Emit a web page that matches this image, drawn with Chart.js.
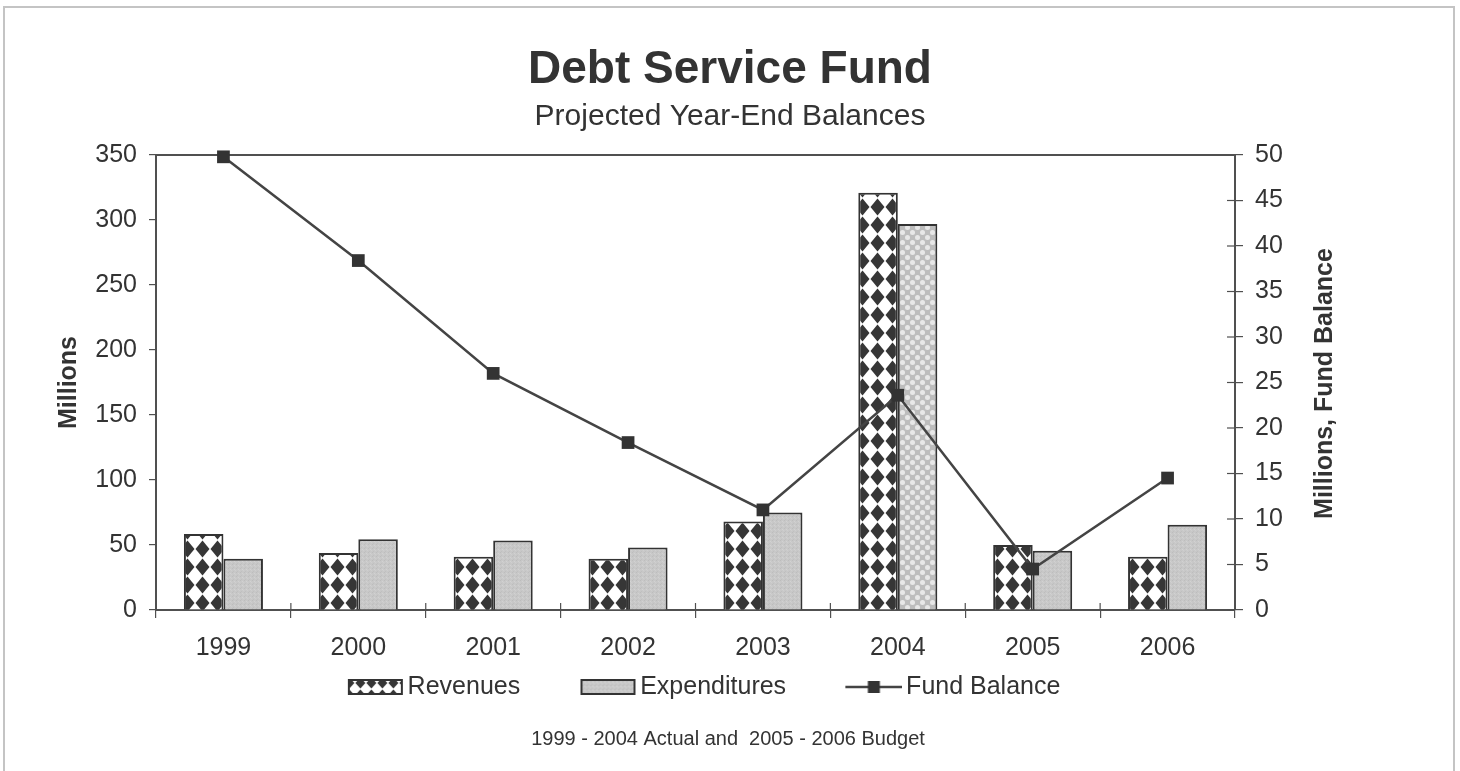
<!DOCTYPE html>
<html>
<head>
<meta charset="utf-8">
<script src="https://cdn.jsdelivr.net/npm/chart.js@4.4.1/dist/chart.umd.min.js"></script>
<style>
  html, body { margin: 0; padding: 0; background: #ffffff; }
  canvas { display: block; }
</style>
</head>
<body>
<canvas id="c" width="1460" height="771"></canvas>
<script>
// ---- data ----
const categories = ['1999', '2000', '2001', '2002', '2003', '2004', '2005', '2006'];
const revenues = [58.5, 43.8, 41, 39.5, 68, 321, 50, 41];
const expenditures = [39.5, 54.5, 53.5, 48, 75, 297, 45.5, 65.5];
const fundBalance = [49.8, 38.4, 26.0, 18.4, 11.0, 23.6, 4.5, 14.5];
const leftTicks = [0, 50, 100, 150, 200, 250, 300, 350];
const rightTicks = [0, 5, 10, 15, 20, 25, 30, 35, 40, 45, 50];
const titleText = 'Debt Service Fund';
const subtitleText = 'Projected Year-End Balances';
const footnoteText = '1999 - 2004 Actual and  2005 - 2006 Budget';
const leftAxisTitle = 'Millions';
const rightAxisTitle = 'Millions, Fund Balance';
const seriesNames = ['Revenues', 'Expenditures', 'Fund Balance'];

const FONT = "'Liberation Sans', Arial, Helvetica, sans-serif";
const TEXT = '#333333';
const AXIS = '#505050';

function makeCanvas(w, h) { const c = document.createElement('canvas'); c.width = w; c.height = h; return c; }

function revTile() {
  const w = 15, h = 18;
  const t = makeCanvas(w, h), g = t.getContext('2d');
  g.fillStyle = '#ffffff'; g.fillRect(0, 0, w, h);
  g.fillStyle = '#363636';
  g.beginPath(); g.moveTo(w / 2, 0.5); g.lineTo(w - 0.5, h / 2); g.lineTo(w / 2, h - 0.5); g.lineTo(0.5, h / 2); g.closePath(); g.fill();
  return t;
}
function expTile() {
  const t = makeCanvas(4, 4), g = t.getContext('2d');
  g.fillStyle = '#c8c8c8'; g.fillRect(0, 0, 4, 4);
  g.fillStyle = '#bdbdbd'; g.fillRect(0, 0, 1, 1);
  g.fillStyle = '#d2d2d2'; g.fillRect(2, 1, 1, 1);
  g.fillStyle = '#c0c0c0'; g.fillRect(1, 3, 1, 1);
  g.fillStyle = '#cfcfcf'; g.fillRect(3, 2, 1, 1);
  return t;
}
function exp2Tile() {
  const t = makeCanvas(10, 10), g = t.getContext('2d');
  g.fillStyle = '#bdbdbd'; g.fillRect(0, 0, 10, 10);
  g.fillStyle = '#e8e8e8';
  g.beginPath(); g.arc(2.5, 2.5, 2.5, 0, Math.PI * 2); g.fill();
  g.beginPath(); g.arc(7.5, 7.5, 2.5, 0, Math.PI * 2); g.fill();
  return t;
}

const mainCtx = document.getElementById('c').getContext('2d');
const revPattern = mainCtx.createPattern(revTile(), 'repeat');
const expPattern = mainCtx.createPattern(expTile(), 'repeat');
const exp2Pattern = mainCtx.createPattern(exp2Tile(), 'repeat');
const expColors = categories.map(c => c === '2004' ? exp2Pattern : expPattern);

function smallRevTile() {
  const w = 11, h = 12;
  const t = makeCanvas(w, h), g = t.getContext('2d');
  g.fillStyle = '#ffffff'; g.fillRect(0, 0, w, h);
  g.fillStyle = '#363636';
  g.beginPath(); g.moveTo(w / 2, 0.5); g.lineTo(w - 0.5, h / 2); g.lineTo(w / 2, h - 0.5); g.lineTo(0.5, h / 2); g.closePath(); g.fill();
  return t;
}
function legendBox(tileFn) {
  const c = makeCanvas(82, 20), g = c.getContext('2d');
  g.fillStyle = g.createPattern(tileFn(), 'repeat');
  g.fillRect(26, 2, 55, 16);
  g.strokeStyle = '#333333'; g.lineWidth = 2;
  g.strokeRect(27, 3, 53, 14);
  return c;
}
function legendLine() {
  const c = makeCanvas(82, 20), g = c.getContext('2d');
  g.strokeStyle = '#444444'; g.lineWidth = 2.5;
  g.beginPath(); g.moveTo(25, 10); g.lineTo(82, 10); g.stroke();
  g.fillStyle = '#333333'; g.fillRect(47.5, 4, 12, 12);
  return c;
}
const legendImages = [legendBox(smallRevTile), legendBox(expTile), legendLine()];

const framePlugin = {
  id: 'frame',
  beforeDraw(chart) {
    const g = chart.ctx;
    g.save();
    g.fillStyle = '#ffffff'; g.fillRect(0, 0, chart.width, chart.height);
    g.strokeStyle = '#c4c4c4'; g.lineWidth = 2;
    g.strokeRect(4, 7, 1450, 800);
    g.restore();
  },
  beforeDatasetsDraw(chart) {
    const g = chart.ctx, a = chart.chartArea;
    const x = chart.scales.x, y1 = chart.scales.y1;
    g.save();
    g.strokeStyle = AXIS; g.lineWidth = 2;
    g.beginPath(); g.moveTo(a.left, a.top); g.lineTo(a.right, a.top); g.stroke();
    g.lineWidth = 1.2;
    const step = x.getPixelForValue(1) - x.getPixelForValue(0);
    for (let i = 0; i <= categories.length; i++) {
      const px = x.getPixelForValue(i) - step / 2;
      g.beginPath(); g.moveTo(px, a.bottom); g.lineTo(px, a.bottom - 7); g.stroke();
    }
    y1.ticks.forEach(t => {
      const py = y1.getPixelForValue(t.value);
      g.beginPath(); g.moveTo(a.right, py); g.lineTo(a.right - 8, py); g.stroke();
    });
    g.restore();
  },
  afterDraw(chart) {
    const g = chart.ctx, a = chart.chartArea;
    g.save();
    g.fillStyle = TEXT;
    g.font = "bold 25px " + FONT;
    g.textAlign = 'center'; g.textBaseline = 'middle';
    g.translate(1325, (a.top + a.bottom) / 2 + 1);
    g.rotate(-Math.PI / 2);
    g.fillText(rightAxisTitle, 0, 0);
    g.restore();
    g.save();
    g.fillStyle = TEXT;
    g.font = "20px " + FONT;
    g.textAlign = 'center'; g.textBaseline = 'middle';
    g.fillText(footnoteText, 728, 739);
    g.restore();
  }
};

new Chart(mainCtx, {
  data: {
    labels: categories,
    datasets: [
      {
        type: 'line', label: seriesNames[2], data: fundBalance, yAxisID: 'y1', order: 0,
        borderColor: '#444444', borderWidth: 2.5, pointStyle: 'rect', pointRadius: 9,
        pointBackgroundColor: '#333333', pointBorderColor: '#333333', pointBorderWidth: 0,
        tension: 0, fill: false, clip: false
      },
      {
        type: 'bar', label: seriesNames[0], data: revenues, yAxisID: 'y', order: 1,
        backgroundColor: revPattern, borderColor: '#333333', borderWidth: 2,
        barPercentage: 1, categoryPercentage: 0.586
      },
      {
        type: 'bar', label: seriesNames[1], data: expenditures, yAxisID: 'y', order: 2,
        backgroundColor: expColors, borderColor: '#333333', borderWidth: 2,
        barPercentage: 1, categoryPercentage: 0.586
      }
    ]
  },
  options: {
    responsive: false,
    devicePixelRatio: 1,
    animation: false,
    layout: { padding: { left: 50, right: 50, top: 0, bottom: 61.5 } },
    scales: {
      x: {
        type: 'category', offset: true,
        grid: { display: true, drawOnChartArea: false, offset: true, tickLength: 8, color: AXIS, lineWidth: 1.2 },
        border: { display: true, color: AXIS, width: 2 },
        ticks: { color: TEXT, font: { family: FONT, size: 25 }, padding: 15, maxRotation: 0, autoSkip: false },
        afterFit(s) { s.height = 53; }
      },
      y: {
        type: 'linear', position: 'left', min: leftTicks[0], max: leftTicks[leftTicks.length - 1],
        afterBuildTicks(s) { s.ticks = leftTicks.map(v => ({ value: v })); },
        grid: { display: true, drawOnChartArea: false, tickLength: 7, color: AXIS, lineWidth: 1.2 },
        border: { display: true, color: AXIS, width: 2 },
        ticks: { color: TEXT, font: { family: FONT, size: 25 }, padding: 12 },
        title: { display: true, text: leftAxisTitle, color: TEXT, font: { family: FONT, size: 25, weight: 'bold' }, padding: { top: 4, bottom: 0 } },
        afterFit(s) { s.width = 106; }
      },
      y1: {
        type: 'linear', position: 'right', min: rightTicks[0], max: rightTicks[rightTicks.length - 1],
        afterBuildTicks(s) { s.ticks = rightTicks.map(v => ({ value: v })); },
        grid: { display: true, drawOnChartArea: false, tickLength: 8, color: AXIS, lineWidth: 1.2 },
        border: { display: true, color: AXIS, width: 2 },
        ticks: { color: TEXT, font: { family: FONT, size: 25 }, padding: 12 },
        afterFit(s) { s.width = 175; }
      }
    },
    plugins: {
      tooltip: { enabled: false },
      title: {
        display: true, text: titleText, color: TEXT,
        font: { family: FONT, size: 46, weight: 'bold' }, padding: { top: 42.4, bottom: 0 }
      },
      subtitle: {
        display: true, text: subtitleText, color: TEXT,
        font: { family: FONT, size: 30 }, padding: { top: 1.4, bottom: 20 }
      },
      legend: {
        display: true, position: 'bottom', fullSize: false,
        title: { display: true, text: '', font: { size: 10 }, padding: { top: -43.5, bottom: 0 } },
        labels: {
          usePointStyle: true, pointStyleWidth: 64.5, padding: 43,
          font: { family: FONT, size: 25 }, color: TEXT,
          generateLabels() {
            return seriesNames.map((n, i) => ({
              text: n, pointStyle: legendImages[i], fillStyle: '#fff', strokeStyle: '#333',
              lineWidth: 0, hidden: false, datasetIndex: [1, 2, 0][i], fontColor: TEXT
            }));
          }
        }
      }
    }
  },
  plugins: [framePlugin]
});
</script>
</body>
</html>
